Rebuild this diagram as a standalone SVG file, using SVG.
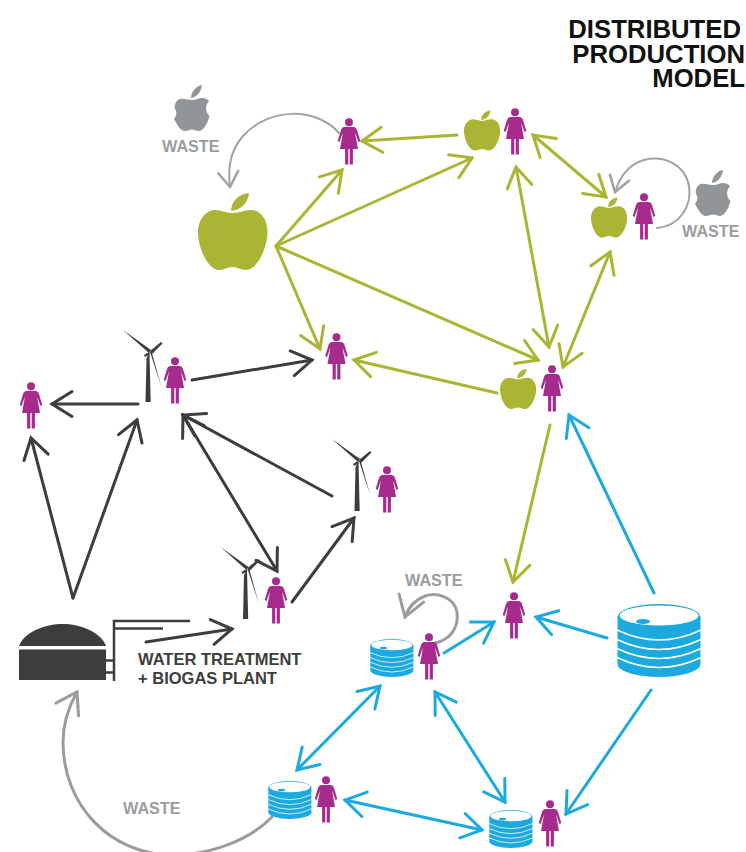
<svg xmlns="http://www.w3.org/2000/svg" width="746" height="852" viewBox="0 0 746 852">
<style>
text{font-family:"Liberation Sans",Arial,sans-serif;font-weight:700}
.t{font-size:25.7px;fill:#111;text-anchor:end}
.w{font-size:16.2px;fill:#9a9c9f}
.l{font-size:16.5px;fill:#3d3d3d}
.c{fill:none;stroke-width:3;stroke-linecap:round;stroke-linejoin:round}
.g{stroke:#a9b533;marker-end:url(#hg)}
.gd{stroke:#a9b533;marker-end:url(#hg);marker-start:url(#hg)}
.d{stroke:#3d3d3d;marker-end:url(#hd)}
.dd{stroke:#3d3d3d;marker-end:url(#hd);marker-start:url(#hd)}
.b{stroke:#1ba9e0;marker-end:url(#hb)}
.bd{stroke:#1ba9e0;marker-end:url(#hb);marker-start:url(#hb)}
.a{stroke:#a0a2a5;stroke-width:2;marker-end:url(#ha)}
.a3{stroke:#9a9c9f;marker-end:url(#hA)}
</style>
<defs>
<marker id="hg" viewBox="-24 -15 27 30" refX="0" refY="0" markerWidth="27" markerHeight="30" markerUnits="userSpaceOnUse" orient="auto-start-reverse"><path d="M-20-12.500L0 0L-20 12.500" fill="none" stroke="#a9b533" stroke-width="3" stroke-linecap="round"/></marker>
<marker id="hd" viewBox="-24 -15 27 30" refX="0" refY="0" markerWidth="27" markerHeight="30" markerUnits="userSpaceOnUse" orient="auto-start-reverse"><path d="M-20-12.500L0 0L-20 12.500" fill="none" stroke="#3d3d3d" stroke-width="3" stroke-linecap="round"/></marker>
<marker id="hb" viewBox="-24 -15 27 30" refX="0" refY="0" markerWidth="27" markerHeight="30" markerUnits="userSpaceOnUse" orient="auto-start-reverse"><path d="M-20-12.500L0 0L-20 12.500" fill="none" stroke="#1ba9e0" stroke-width="3" stroke-linecap="round"/></marker>
<marker id="ha" viewBox="-24 -15 27 30" refX="0" refY="0" markerWidth="27" markerHeight="30" markerUnits="userSpaceOnUse" orient="auto"><path d="M-15-10L0 0L-15 10" fill="none" stroke="#a0a2a5" stroke-width="2.500" stroke-linecap="round"/></marker>
<marker id="hA" viewBox="-24 -15 27 30" refX="0" refY="0" markerWidth="27" markerHeight="30" markerUnits="userSpaceOnUse" orient="auto"><path d="M-20-13L0 0L-20 13" fill="none" stroke="#9a9c9f" stroke-width="3" stroke-linecap="round"/></marker>
<g id="woman" fill="#a62b8d"><circle cx="0" cy="4.300" r="4"/><path d="M-4.500 9L4.500 9Q7 9 8 12L11.300 23L9.500 24L6 14.500L9 31L3.900 31L3.900 46.500L0.700 46.500L0.700 31L-0.700 31L-0.700 46.500L-3.900 46.500L-3.900 31L-9 31L-6 14.500L-9.500 24L-11.300 23L-8 12Q-7 9-4.500 9Z"/></g>
<g id="apple" fill="#a9b533"><path d="M33 19C33 10 40 2 51 1C50 10 44 18 33 19Z"/><path d="M34.500 21C42 21 46 18 53 18C63 18 69.500 28 69.500 40C69.500 56 59 78 48 78C42 78 40 75 34.500 75C29 75 27 78 21 78C10 78 0 56 0 40C0 28 8 18 17 18C24 18 27 21 34.500 21Z"/></g>
<g id="gapple" fill="#929598"><path d="M17 13C17 7 22 1 28 0C27 7 23 12 17 13Z"/><path d="M18 15C22 15 25 13 28 13C31 13 33 14 35 16C31 20 31 27 35.500 31C34 37 30 46 25 46C22 46 21 44.500 18 44.500C15 44.500 14 46 11 46C6 46 3 39 0 34C3 30 3 27 1 24C0 20 2 15 6 14C10 13 14 15 18 15Z"/></g>
<g id="disks"><path d="M0.500 13V60A41.500 13 0 0 0 83.500 60V13Z" fill="#1ba9e0"/><ellipse cx="42" cy="13" rx="41.500" ry="13" fill="#1ba9e0"/><ellipse cx="42" cy="11.500" rx="39.500" ry="10" fill="#fff"/><ellipse cx="26" cy="17.500" rx="7" ry="2.500" fill="#1ba9e0"/><g fill="none" stroke="#fff" stroke-width="1.500"><path d="M0 26Q42 46 84 26"/><path d="M0 35.500Q42 55.500 84 35.500"/><path d="M0 44.500Q42 64.500 84 44.500"/><path d="M0 53.500Q42 73.500 84 53.500"/></g></g>
<g id="mill" fill="#3d3d3d"><path d="M-3.500 6L-1.500 2L-0.500 2L0.700 50L-4.500 50Z"/><path d="M-6 3L-1 0L0 2L-5 5Z"/><path d="M-27-22L1-2L-1 1Z"/><path d="M0-1L11-10L12.500-8.500L2 2Z"/><path d="M0 0L1.500-0.500L11.500 35Z"/></g>
</defs>
<g id="connectors">
<path class="c g" d="M276 246L342 170"/>
<path class="c g" d="M276 246L472 158"/>
<path class="c g" d="M276 246L320 349"/>
<path class="c g" d="M276 246L538 360"/>
<path class="c g" d="M457 135L362 141"/>
<path class="c gd" d="M516 167L549 347"/>
<path class="c gd" d="M533 135L606 197"/>
<path class="c gd" d="M610 252L563 367"/>
<path class="c g" d="M497 393L354 360"/>
<path class="c g" d="M550 425L513 582"/>
<path class="c d" d="M192 380L312 360"/>
<path class="c d" d="M138 404L52 404"/>
<path class="c d" d="M73 598L31 438"/>
<path class="c d" d="M73 598L137 420"/>
<path class="c dd" d="M183 415L277 571"/>
<path class="c d" d="M332 496L183 415"/>
<path class="c d" d="M292 602L354 518"/>
<path class="c d" d="M146 642L232 629"/>
<path class="c b" d="M654 593L569 415"/>
<path class="c b" d="M607 638L536 617"/>
<path class="c b" d="M444 653L494 622"/>
<path class="c b" d="M651 690L566 814"/>
<path class="c bd" d="M380 686L297 770"/>
<path class="c bd" d="M435 692L505 802"/>
<path class="c bd" d="M345 800L482 830"/>
<path class="c a" d="M339 133C318 108 270 106 243 136C229 152 228 170 230 187"/>
<path class="c a" d="M657 228C680 226 692 206 689 186C685 164 663 155 644 160C630 164 620 176 615 192"/>
<path class="c a3" d="M435 643C450 640 459 628 457 612C454 597 437 592 425 596C415 600 408 608 405 617"/>
<path class="c a3" d="M272 817C250 840 210 855 173 855C110 855 63 805 63 742C63 725 68 708 77 692"/>
</g>
<g id="plant" fill="#3d3d3d"><path d="M19 646C24 632 45 624 63 624C80 624 101 632 106 646Z"/><rect x="19" y="649.500" width="87" height="30.500"/><path d="M190 621H114V681M163 628.500H114M106 660.500H114M106 672.500H114" fill="none" stroke="#3d3d3d" stroke-width="2.500"/></g>
<g id="mill1"><use href="#mill" x="150" y="352"/></g>
<g id="mill2"><use href="#mill" x="359" y="461"/></g>
<g id="mill3"><use href="#mill" x="247.500" y="569"/></g>
<g id="w1"><use href="#woman" x="349" y="118"/></g>
<g id="w2"><use href="#woman" x="515" y="108"/></g>
<g id="w3"><use href="#woman" x="644" y="193"/></g>
<g id="w4"><use href="#woman" x="336.500" y="333"/></g>
<g id="w5"><use href="#woman" x="552" y="365"/></g>
<g id="w6"><use href="#woman" x="175" y="357"/></g>
<g id="w7"><use href="#woman" x="31" y="382"/></g>
<g id="w8"><use href="#woman" x="387" y="466"/></g>
<g id="w9"><use href="#woman" x="276" y="577"/></g>
<g id="w10"><use href="#woman" x="514" y="592"/></g>
<g id="w11"><use href="#woman" x="429" y="633"/></g>
<g id="w12"><use href="#woman" x="326" y="776"/></g>
<g id="w13"><use href="#woman" x="550" y="800"/></g>
<g id="a1"><use href="#apple" transform="translate(198 192)"/></g>
<g id="a2"><use href="#apple" transform="translate(464 110) scale(.52)"/></g>
<g id="a3"><use href="#apple" transform="translate(591 197) scale(.52)"/></g>
<g id="a4"><use href="#apple" transform="translate(500 368.500) scale(.52)"/></g>
<g id="ga1"><use href="#gapple" transform="translate(174 85)"/></g>
<g id="ga2"><use href="#gapple" transform="translate(695 170)"/></g>
<g id="d1"><use href="#disks" transform="translate(617 604)"/></g>
<g id="d2"><use href="#disks" transform="translate(370 639) scale(.52)"/></g>
<g id="d3"><use href="#disks" transform="translate(268 781) scale(.52)"/></g>
<g id="d4"><use href="#disks" transform="translate(489 810) scale(.52)"/></g>
<text class="t" x="741" y="38">DISTRIBUTED</text>
<text class="t" x="745" y="63">PRODUCTION</text>
<text class="t" x="745" y="87">MODEL</text>
<text class="w" x="162" y="152">WASTE</text>
<text class="w" x="682" y="237">WASTE</text>
<text class="w" x="405" y="586">WASTE</text>
<text class="w" x="123" y="814">WASTE</text>
<text class="l" x="138" y="665">WATER TREATMENT</text>
<text class="l" x="138" y="684">+ BIOGAS PLANT</text>
</svg>
